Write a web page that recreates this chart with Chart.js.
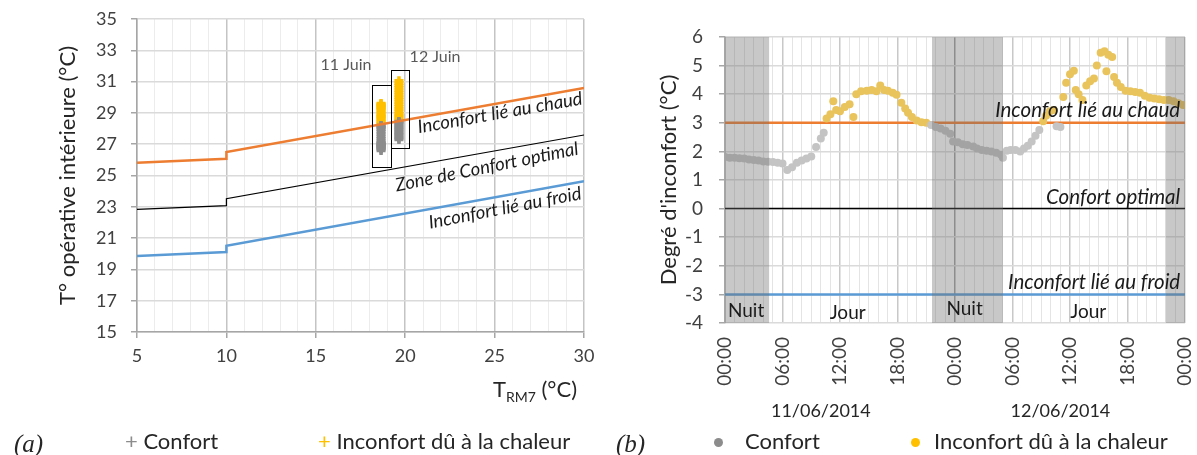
<!DOCTYPE html>
<html><head><meta charset="utf-8">
<script src="https://cdn.jsdelivr.net/npm/chart.js@4.4.0/dist/chart.umd.min.js"></script>
<style>
html,body{margin:0;padding:0;background:#fff;width:1197px;height:455px;overflow:hidden;font-family:Lato,sans-serif;}
canvas{position:absolute;top:0;}
#ca{left:0;}
#cb{left:600px;}
.lg{position:absolute;top:428px;font-size:22px;line-height:26px;color:#262626;white-space:nowrap;font-family:Lato,sans-serif;}
.lab{position:absolute;top:430px;font-family:'Liberation Serif',serif;font-style:italic;font-size:25px;color:#262626;}
.dot{position:absolute;top:438px;width:9px;height:9px;border-radius:50%;}
</style></head><body>
<canvas id="ca" width="600" height="455"></canvas>
<canvas id="cb" width="597" height="455"></canvas>
<div class="lab" style="left:14px">(a)</div>
<div class="lg" style="left:125px"><span style="color:#8c8c8c">+</span> Confort</div>
<div class="lg" style="left:318px"><span style="color:#ffc000">+</span> Inconfort dû à la chaleur</div>
<div class="lab" style="left:616px">(b)</div>
<div class="dot" style="left:714px;background:#8c8c8c"></div>
<div class="lg" style="left:745px">Confort</div>
<div class="dot" style="left:911px;background:#ffc000"></div>
<div class="lg" style="left:934px">Inconfort dû à la chaleur</div>
<script>
const FONT = 'Lato';
// ---------- (a) ----------
const trm = [5, 10, 10, 30];
const limiteChaud = [25.82, 26.07, 26.5, 30.6];
const limiteOptimal = [22.84, 23.07, 23.52, 27.59];
const limiteFroid = [19.86, 20.11, 20.51, 24.63];
const trmJours = [18.65, 19.65];
const confort11 = [26.6, 26.7, 26.75, 26.8, 26.85, 26.9, 26.95, 27.0, 27.05, 27.1, 27.2, 27.35, 27.5, 27.65, 27.8, 27.95, 28.05, 28.15, 28.2];
const inconfort11 = [28.3, 28.4, 28.5, 28.6, 28.7, 28.75, 28.8, 28.9, 29.0, 29.1, 29.2, 29.3, 29.35, 29.4, 29.45, 29.5, 29.55, 29.6];
const confort12 = [27.3, 27.4, 27.5, 27.6, 27.7, 27.8, 27.9, 28.0, 28.1, 28.2, 28.3, 28.4, 28.45];
const inconfort12 = [28.55, 28.65, 28.75, 28.85, 28.95, 29.1, 29.25, 29.4, 29.55, 29.7, 29.85, 30.0, 30.15, 30.3, 30.45, 30.6, 30.75, 30.9, 31.05];
const boites = [[18.14, 19.2, 25.54, 30.78], [19.2, 20.21, 26.76, 31.74]];

// ---------- (b) ----------
const heures = [0,0.5,1,1.5,2,2.5,3,3.5,4,4.5,5,5.5,6,6.5,7,7.5,8,8.5,9,9.5,10,10.3,10.6,11,11.3,11.6,12,12.5,13,13.4,13.7,14.2,14.8,15.3,15.8,16.2,16.6,17,17.5,17.9,18.4,18.8,19.1,19.5,20,20.5,21,21.5,22,22.5,23,23.5,23.8,24.3,24.8,25.3,25.9,26.3,26.8,27.3,27.8,28.3,28.8,29,29.4,29.8,30.3,30.8,31.2,31.6,32,32.4,32.8,33.2,33.5,33.9,34.3,34.6,35,35.3,35.6,36,36.4,36.6,36.9,37.3,37.7,38.1,38.5,38.8,39.2,39.6,39.8,40,40.4,40.6,40.9,41.3,41.8,42.3,42.8,43.3,43.8,44.3,44.8,45.3,45.8,46.3,46.8,47.3,47.8];
const degre = [1.80,1.78,1.78,1.76,1.75,1.72,1.70,1.68,1.65,1.64,1.63,1.60,1.58,1.35,1.45,1.60,1.68,1.75,1.82,2.15,2.45,2.65,3.15,3.30,3.75,3.45,3.40,3.55,3.65,3.20,4.00,4.10,4.12,4.15,4.10,4.30,4.15,4.12,4.05,3.98,3.70,3.50,3.35,3.20,3.08,3.02,3.00,2.92,2.85,2.80,2.72,2.62,2.35,2.32,2.25,2.22,2.17,2.10,2.05,2.02,2.00,1.95,1.88,1.78,2.02,2.05,2.05,2.00,2.10,2.20,2.35,2.55,2.75,3.05,3.25,3.40,3.45,2.88,2.85,3.90,4.40,4.70,4.82,4.15,4.00,3.80,4.30,4.45,4.55,5.00,5.45,5.50,4.80,5.38,5.30,4.60,4.40,4.25,4.12,4.10,4.08,4.05,3.95,3.88,3.85,3.82,3.80,3.80,3.75,3.68,3.62];
const seuilChaud = 3, seuilOptimal = 0, seuilFroid = -3;
const nuits = [[0, 4.6], [21.6, 29.0], [46.0, 48]];
const heureTicks = [0, 6, 12, 18, 24, 30, 36, 42, 48];
const dates = ['11/06/2014', '12/06/2014'];

const GREY_A = '#8c8c8c', GOLD_A = '#ffc000';
const ORANGE = '#ed7d31', BLUE = '#5b9bd5';
const pts = (x, ys) => ys.map(y => ({x, y}));
const courbe = (xs, ys) => xs.map((x, i) => ({x, y: ys[i]}));

const pluginA = {
  id: 'annotA',
  afterDatasetsDraw(chart) {
    const {ctx, scales: {x, y}} = chart;
    ctx.save();
    ctx.strokeStyle = '#000'; ctx.lineWidth = 1;
    boites.forEach(b => {
      const x0 = x.getPixelForValue(b[0]), x1 = x.getPixelForValue(b[1]);
      const y0 = y.getPixelForValue(b[3]), y1 = y.getPixelForValue(b[2]);
      ctx.strokeRect(Math.round(x0) + 0.5, Math.round(y0) + 0.5, Math.round(x1 - x0), Math.round(y1 - y0));
    });
    const rot = [['Inconfort lié au chaud', 25.3, 29.0, -10], ['Zone de Confort optimal', 24.57, 25.54, -11.5], ['Inconfort lié au froid', 25.58, 22.92, -11]];
    ctx.fillStyle = '#1a1a1a';
    ctx.font = 'italic 18.5px ' + FONT;
    ctx.textAlign = 'center'; ctx.textBaseline = 'middle';
    rot.forEach(r => {
      ctx.save();
      ctx.translate(x.getPixelForValue(r[1]), y.getPixelForValue(r[2]));
      ctx.rotate(r[3] * Math.PI / 180);
      ctx.fillText(r[0], 0, 0);
      ctx.restore();
    });
    ctx.fillStyle = '#595959';
    ctx.font = '16px ' + FONT;
    ctx.fillText('11 Juin', x.getPixelForValue(16.69), y.getPixelForValue(32.06));
    ctx.fillText('12 Juin', x.getPixelForValue(21.67), y.getPixelForValue(32.57));
    ctx.fillStyle = '#262626';
    ctx.textBaseline = 'alphabetic'; ctx.textAlign = 'left';
    ctx.font = '22px ' + FONT;
    const w1 = ctx.measureText('T').width, w3 = ctx.measureText(' (°C)').width;
    ctx.font = '14px ' + FONT;
    const w2 = ctx.measureText('RM7').width;
    const xEnd = chart.chartArea.right - 7, base = 397;
    let cx = xEnd - w1 - w2 - w3;
    ctx.font = '22px ' + FONT; ctx.fillText('T', cx, base); cx += w1;
    ctx.font = '14px ' + FONT; ctx.fillText('RM7', cx, base + 5); cx += w2;
    ctx.font = '22px ' + FONT; ctx.fillText(' (°C)', cx, base);
    ctx.restore();
  }
};

new Chart(document.getElementById('ca'), {
  type: 'scatter',
  data: {datasets: [
    {label: 'chaud', data: courbe(trm, limiteChaud), showLine: true, borderColor: ORANGE, borderWidth: 2.5, pointRadius: 0},
    {label: 'optimal', data: courbe(trm, limiteOptimal), showLine: true, borderColor: '#000', borderWidth: 1.2, pointRadius: 0},
    {label: 'froid', data: courbe(trm, limiteFroid), showLine: true, borderColor: BLUE, borderWidth: 2.5, pointRadius: 0},
    {label: 'Confort', data: [...pts(trmJours[0], confort11), ...pts(trmJours[1], confort12)], pointStyle: 'cross', pointRadius: 4.5, borderWidth: 3.5, borderColor: GREY_A, backgroundColor: GREY_A},
    {label: 'Inconfort dû à la chaleur', data: [...pts(trmJours[0], inconfort11), ...pts(trmJours[1], inconfort12)], pointStyle: 'cross', pointRadius: 4.5, borderWidth: 3.5, borderColor: GOLD_A, backgroundColor: GOLD_A}
  ]},
  options: {
    responsive: false, animation: false, devicePixelRatio: 1,
    layout: {padding: {top: 19, right: 16, left: 0, bottom: 0}},
    plugins: {legend: {display: false}, tooltip: {enabled: false}},
    scales: {
      x: {type: 'linear', min: 5, max: 30,
        afterFit: s => { s.height = 123; s.paddingRight = 0; s.paddingLeft = 0; },
        ticks: {stepSize: 1, autoSkip: false, maxRotation: 0, padding: 7, color: '#404040', font: {family: FONT, size: 18},
          callback: v => (v % 5 === 0 ? v : '')},
        grid: {color: c => (c.tick && c.tick.value % 5 === 0 ? '#c4c4c4' : '#ececec'), lineWidth: c => (c.tick && c.tick.value % 5 === 0 ? 1.5 : 1),
          tickLength: 6, tickColor: c => (c.tick && c.tick.value % 5 === 0 ? '#a6a6a6' : 'rgba(0,0,0,0)')},
        border: {color: '#a6a6a6', width: 1.5}
      },
      y: {min: 15, max: 35,
        afterFit: s => { s.width = 137; s.paddingTop = 0; s.paddingBottom = 0; },
        ticks: {stepSize: 2, padding: 14, color: '#404040', font: {family: FONT, size: 18}},
        grid: {color: '#dadada', lineWidth: 1.5, tickLength: 6, tickColor: '#a6a6a6'},
        border: {color: '#a6a6a6', width: 1.5},
        title: {display: true, text: 'T° opérative intérieure (°C)', color: '#262626', font: {family: FONT, size: 22}, padding: {top: 55, bottom: 0}}
      }
    }
  },
  plugins: [pluginA]
});

const ptsB = heures.map((h, i) => ({x: h, y: degre[i]}));
const pluginB = {
  id: 'annotB',
  afterDatasetsDraw(chart) {
    const {ctx, scales: {x, y}, chartArea: a} = chart;
    ctx.save();
    ctx.fillStyle = 'rgba(110,110,110,0.38)';
    nuits.forEach(n => {
      const x0 = x.getPixelForValue(n[0]), x1 = x.getPixelForValue(n[1]);
      ctx.fillRect(x0, a.top, x1 - x0, a.bottom - a.top);
    });
    ctx.fillStyle = '#1a1a1a';
    ctx.font = 'italic 20.5px ' + FONT;
    ctx.textAlign = 'right'; ctx.textBaseline = 'middle';
    const xr = x.getPixelForValue(47.5);
    ctx.fillText('Inconfort lié au chaud', xr, y.getPixelForValue(3.43));
    ctx.fillText('Confort optimal', xr, y.getPixelForValue(0.38));
    ctx.fillText('Inconfort lié au froid', xr, y.getPixelForValue(-2.59));
    ctx.font = '19px ' + FONT; ctx.textAlign = 'center';
    [['Nuit', 2.2, -3.57], ['Jour', 12.8, -3.64], ['Nuit', 25.0, -3.5], ['Jour', 37.9, -3.6]].forEach(t => {
      ctx.fillText(t[0], x.getPixelForValue(t[1]), y.getPixelForValue(t[2]));
    });
    ctx.fillStyle = '#262626';
    ctx.font = '18px ' + FONT;
    ctx.fillText(dates[0], x.getPixelForValue(10), 411);
    ctx.fillText(dates[1], x.getPixelForValue(35), 411);
    ctx.restore();
  }
};

new Chart(document.getElementById('cb'), {
  type: 'scatter',
  data: {datasets: [
    {label: 'Confort', data: ptsB.filter(p => p.y < seuilChaud), pointStyle: 'circle', pointRadius: 4, borderWidth: 0, backgroundColor: 'rgb(196,196,196)'},
    {label: 'Inconfort dû à la chaleur', data: ptsB.filter(p => p.y >= seuilChaud), pointStyle: 'circle', pointRadius: 4, borderWidth: 0, backgroundColor: 'rgb(233,196,92)'},
    {label: 'chaud', data: [{x: 0, y: seuilChaud}, {x: 48, y: seuilChaud}], showLine: true, borderColor: ORANGE, borderWidth: 2.5, pointRadius: 0},
    {label: 'optimal', data: [{x: 0, y: seuilOptimal}, {x: 48, y: seuilOptimal}], showLine: true, borderColor: '#000', borderWidth: 1.5, pointRadius: 0},
    {label: 'froid', data: [{x: 0, y: seuilFroid}, {x: 48, y: seuilFroid}], showLine: true, borderColor: BLUE, borderWidth: 2.5, pointRadius: 0}
  ]},
  options: {
    responsive: false, animation: false, devicePixelRatio: 1,
    layout: {padding: {top: 37, right: 12, left: 0, bottom: 0}},
    plugins: {legend: {display: false}, tooltip: {enabled: false}},
    scales: {
      x: {type: 'linear', min: 0, max: 48,
        afterFit: s => { s.height = 132; s.paddingRight = 0; s.paddingLeft = 0; },
        ticks: {stepSize: 1, autoSkip: false, minRotation: 90, maxRotation: 90, padding: 14, color: '#404040', font: {family: FONT, size: 19},
          callback: v => (heureTicks.includes(v) ? String(v % 24).padStart(2, '0') + ':00' : '')},
        grid: {drawTicks: false, color: c => {
          const v = c.tick ? c.tick.value : 0;
          if (v === 24) return '#a0a0a0';
          return v % 6 === 0 ? '#c8c8c8' : '#e4e4e4';
        }, lineWidth: c => (c.tick && c.tick.value % 6 === 0 ? 1.5 : 1)},
        border: {display: false}
      },
      y: {min: -4, max: 6,
        afterFit: s => { s.width = 125; s.paddingTop = 0; s.paddingBottom = 0; },
        ticks: {stepSize: 1, padding: 16, color: '#404040', font: {family: FONT, size: 19}},
        grid: {color: '#dadada', lineWidth: 1.5, tickLength: 6, tickColor: '#a6a6a6'},
        border: {color: '#a6a6a6', width: 1.5},
        title: {display: true, text: "Degré d'inconfort (°C)", color: '#262626', font: {family: FONT, size: 22}, padding: {top: 56, bottom: 0}}
      }
    }
  },
  plugins: [pluginB]
});
</script>
</body></html>
